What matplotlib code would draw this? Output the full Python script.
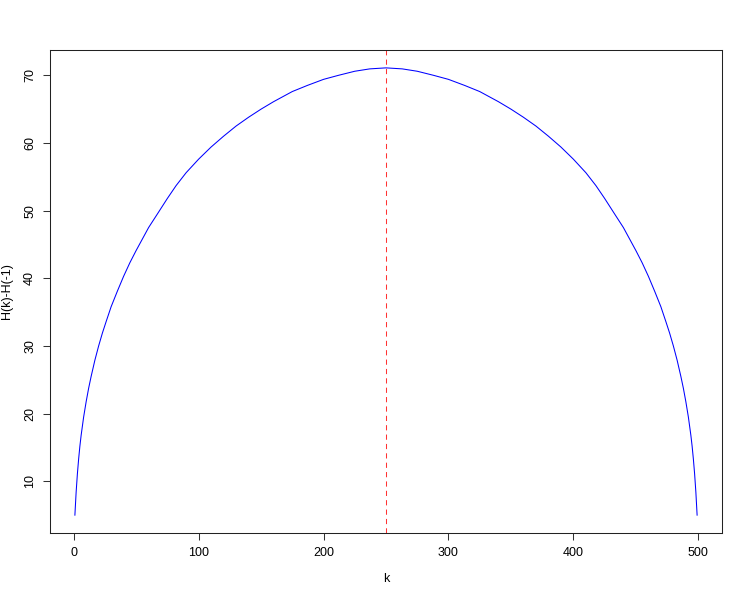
import matplotlib
matplotlib.use('Agg')
import matplotlib.pyplot as plt

# values
k = [1, 2, 3, 4, 5, 6, 8, 10, 12, 14, 17, 20, 23, 26, 30, 35, 40, 45, 50, 55, 60, 67,
     75, 82, 90, 100, 110, 120, 130, 140, 150, 160, 175, 187, 200, 212, 225, 237,
     250,
     263, 275, 288, 300, 313, 325, 340, 350, 360, 370, 380, 390, 400, 410, 418, 425,
     433, 440, 445, 450, 455, 460, 465, 470, 474, 477, 480, 483, 486, 488, 490, 492,
     494, 495, 496, 497, 498, 499]
h_diff = [5.0, 8.4, 11.1, 13.3, 15.2, 16.8, 19.5, 21.75, 23.75, 25.5, 27.9, 30.0, 31.9,
          33.6, 35.8, 38.1, 40.3, 42.3, 44.1, 45.8, 47.5, 49.5, 51.8, 53.7, 55.6, 57.6,
          59.4, 61.0, 62.5, 63.8, 65.0, 66.1, 67.6, 68.5, 69.4, 70.0, 70.6, 70.95,
          71.1,
          70.95, 70.6, 70.0, 69.4, 68.5, 67.6, 66.1, 65.0, 63.8, 62.5, 61.0, 59.4, 57.6,
          55.6, 53.7, 51.8, 49.5, 47.5, 45.8, 44.1, 42.3, 40.3, 38.1, 35.8, 33.6, 31.9,
          30.0, 27.9, 25.5, 23.75, 21.75, 19.5, 16.8, 15.2, 13.3, 11.1, 8.4, 5.0]
k_mid = 250

x_ticks = [0, 100, 200, 300, 400, 500]
y_ticks = [10, 20, 30, 40, 50, 60, 70]

plt.rcParams['font.family'] = ['Liberation Sans', 'DejaVu Sans']
plt.rcParams['font.size'] = 9

fig = plt.figure(figsize=(7.47, 5.97), dpi=100)
ax = fig.add_axes([50 / 747, 1 - 533 / 597, 672 / 747, 483 / 597])

ax.plot(k, h_diff, color='#0000ff', linewidth=0.75)
ax.axvline(k_mid, color='#ff0000', linestyle=(0, (5, 4)), linewidth=0.75, alpha=0.8)

ax.set_xlim(-18.92, 518.92)
ax.set_ylim(2.36, 73.74)
ax.set_xticks(x_ticks)
ax.set_yticks(y_ticks)
ax.set_yticklabels([str(v) for v in y_ticks], rotation=90, va='center')
ax.tick_params(direction='out', length=5, width=0.75, pad=5, color='#333333')

for s in ax.spines.values():
    s.set_linewidth(0.75)
    s.set_color('#222222')

ax.set_xlabel('k', labelpad=10)
ax.set_ylabel('H(k)-H(-1)', labelpad=8)

fig.savefig('out.png', dpi=100)
